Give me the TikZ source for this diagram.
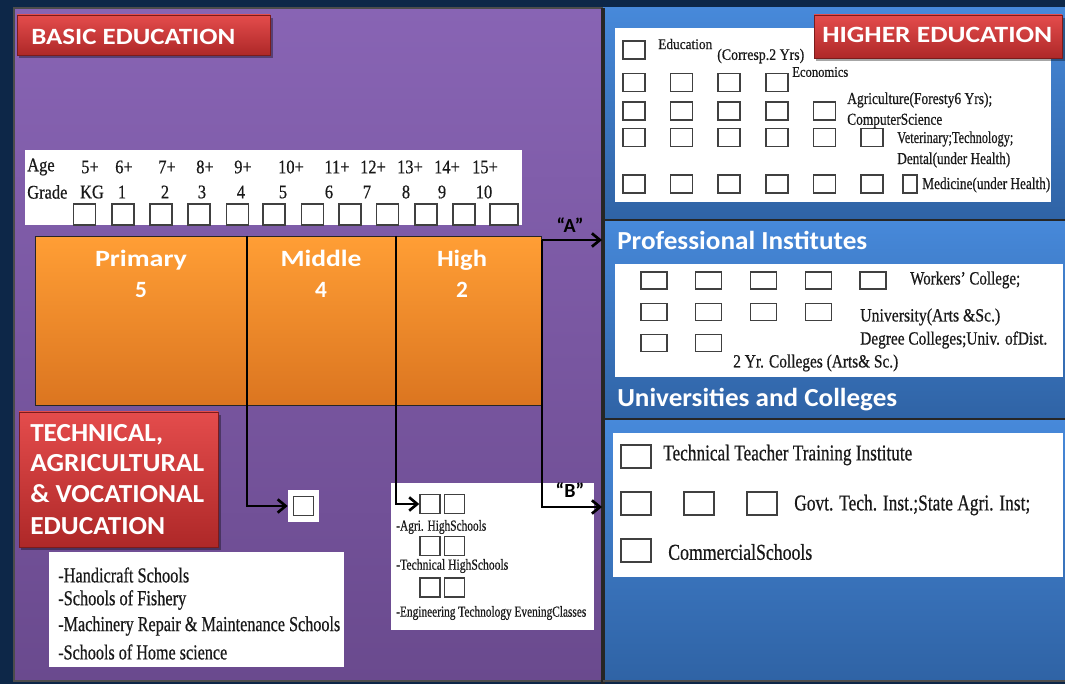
\documentclass[tikz,border=0pt]{standalone}
\usepackage{fontspec}
\setmainfont{Liberation Serif}
\newfontfamily\hdf{Carlito}
\newfontfamily\srf[FakeBold=0.6]{Liberation Serif}
\newfontfamily\agf[FakeStretch=0.85,FakeBold=0.5]{Liberation Serif}
\usetikzlibrary{arrows.meta}
\definecolor{navy}{HTML}{0D2748}
\definecolor{purpT}{HTML}{8864B4}
\definecolor{purpB}{HTML}{6A4A8E}
\definecolor{bluT}{HTML}{4789DA}
\definecolor{bluB}{HTML}{2F63A5}
\definecolor{orT}{HTML}{FF9E35}
\definecolor{orB}{HTML}{DB7520}
\definecolor{redT}{HTML}{E44C4C}
\definecolor{redB}{HTML}{AE2828}
\newcommand\fw[2]{\sbox0{#2}\pgfmathsetmacro\fwr{#1*0.75/\the\wd0}\scalebox{\fwr}[1]{\usebox0}}
\begin{document}
\begin{tikzpicture}[x=0.75pt,y=-0.75pt,
  hdr/.style={anchor=base west,inner sep=0pt,text=white,font={\hdf\bfseries\fontsize{#1}{#1}\selectfont}},
  hdc/.style={anchor=base,inner sep=0pt,text=white,font={\hdf\bfseries\fontsize{#1}{#1}\selectfont}},
  sr/.style={anchor=west,inner sep=0pt,text=black!90,font={\srf\fontsize{#1}{#1}\selectfont}},
  ag/.style={inner sep=0pt,text=black!90,font={\agf\fontsize{14.5}{14.5}\selectfont}},
  sqbase/.style={draw=black!75,line width=1.1pt,fill=white,inner sep=0pt},
  sqA/.style={sqbase,minimum width=16.5pt,minimum height=15.75pt},
  sqH/.style={sqbase,minimum width=16.5pt,minimum height=13.5pt},
  sqP/.style={sqbase,minimum width=19.5pt,minimum height=12.75pt},
  sqU/.style={sqbase,minimum width=22.5pt,minimum height=17.25pt},
  sqG/.style={sqbase,minimum width=15pt,minimum height=14.5pt},
  seg/.style={draw=black!85,line width=1.1pt,top color=orT,bottom color=orB,inner sep=0pt,anchor=north west,minimum height=126.75pt},
  redtab/.style={top color=redT,bottom color=redB,draw=redB!70!black,line width=0.4pt},
  shad/.style={fill=black,opacity=0.35},
  wbox/.style={fill=white},
  conn/.style={draw=black,line width=2pt,-{Straight Barb[length=6pt,width=10pt]}},
  qlab/.style={anchor=base,inner sep=0pt,text=black,font={\hdf\bfseries\fontsize{15}{15}\selectfont}}
]
\useasboundingbox (0,0) rectangle (1065,684);
% background and panels
\fill[navy] (0,0) rectangle (1065,684);
\path[top color=purpT,bottom color=purpB,draw=black!70,line width=1.2pt] (14,8) rectangle (603,681);
\path[top color=bluT,bottom color=bluB] (603,8) rectangle (1065,220);
\path[top color=bluT,bottom color=bluB] (603,220) rectangle (1065,419);
\path[top color=bluT,bottom color=bluB] (603,419) rectangle (1065,681);
\draw[black!85,line width=2.4pt] (603,8) -- (603,684);
\draw[black!85,line width=2pt] (603,220) -- (1065,220);
\draw[black!85,line width=2pt] (603,419) -- (1065,419);
\draw[black!70,line width=1pt] (603,681) -- (1065,681);

% ---------- BASIC EDUCATION ----------
\fill[shad] (19,18) rectangle (273,58);
\path[redtab] (17,15) rectangle (270,55);
\node[hdr=17.5] (tBasic) at (31,45) {\fw{204}{BASIC EDUCATION}};

% age / grade table
\path[wbox] (25,150) rectangle (522,225);
\node[ag,anchor=west] (tAge) at (27,167) {Age};
\node[ag,anchor=west] (tGrade) at (27,192) {Grade};
\foreach \x/\t [count=\i] in {90/5+,124/6+,167/7+,205/8+,243/9+,291/10+,337/11+,373/12+,410/13+,447/14+,485/15+}
  \node[ag] (age\i) at (\x,167) {\t};
\foreach \x/\t [count=\i] in {92/KG,122/1,165/2,202/3,241/4,283/5,329/6,367/7,406/8,442/9,484/10}
  \node[ag] (grd\i) at (\x,192) {\t};
\foreach \x [count=\i] in {84.5,123,161,199,237.5,274,312.5,350,387.5,426,464}
  \node[sqA] (a\i) at (\x,214.5) {};
\node[sqA,minimum width=21pt] (a12) at (504,214.5) {};

% orange bar
\node[seg,minimum width=159pt] (sPrim) at (35,236) {};
\node[seg,minimum width=111.75pt] (sMid) at (247,236) {};
\node[seg,minimum width=108.75pt] (sHigh) at (396,236) {};
\node[hdc=17.5] (tPrim) at (141,267) {\fw{92}{Primary}};
\node[hdc=17.5] (nPrim) at (141,298) {5};
\node[hdc=17.5] (tMid) at (321,267) {\fw{81}{Middle}};
\node[hdc=17.5] (nMid) at (321,298) {4};
\node[hdc=17.5] (tHigh) at (462,267) {\fw{50}{High}};
\node[hdc=17.5] (nHigh) at (462,298) {2};

% ---------- TECHNICAL ----------
\fill[shad] (21,415) rectangle (221,550);
\path[redtab] (19,412) rectangle (218,547);
\node[hdr=19.5] (tT1) at (30,442) {\fw{133}{TECHNICAL,}};
\node[hdr=19.5] (tT2) at (30,472) {\fw{174}{AGRICULTURAL}};
\node[hdr=19.5] (tT3) at (30,503) {\fw{174}{\& VOCATIONAL}};
\node[hdr=19.5] (tT4) at (30,535) {\fw{135}{EDUCATION}};

% handicraft list
\path[wbox] (49,552) rectangle (344,667);
\node[sr=16] (l1) at (58,575) {\fw{131}{-Handicraft Schools}};
\node[sr=16] (l2) at (58,600) {\fw{128}{-Schools of Fishery}};
\node[sr=16] (l3) at (58,626) {\fw{282}{-Machinery Repair \& Maintenance Schools}};
\node[sr=16] (l4) at (58,652) {\fw{169}{-Schools of Home science}};

% vocational small box
\node[fill=white,minimum size=23.25pt,inner sep=0pt] (vocbox) at (303.5,506) {};
\node[sqG] (vocsq) at (vocbox.center) {};

% agri box
\path[wbox] (391,483) rectangle (594,630);
\node[sqG] (ag11) at (430,504) {};
\node[sqG] (ag12) at (454.5,504) {};
\node[sr=11.5] (m1) at (396,527) {\fw{90}{-Agri. HighSchools}};
\node[sqG] (ag21) at (430,546) {};
\node[sqG] (ag22) at (454.5,546) {};
\node[sr=11.5] (m2) at (396,566) {\fw{112}{-Technical HighSchools}};
\node[sqG] (ag31) at (430,587.5) {};
\node[sqG] (ag32) at (454.5,587.5) {};
\node[sr=11.5] (m3) at (396,613) {\fw{190}{-Engineering Technology EveningClasses}};

% connectors
\coordinate (dM) at (247,236);
\coordinate (dH) at (396,236);
\coordinate (dR) at (542,240);
\coordinate (pA) at (602,240);
\coordinate (pB) at (602,507);
\draw[conn] (dM) |- (vocbox.west);
\draw[conn] (dH) |- (ag11.west);
\draw[conn] (dR) -- (pA);
\draw[conn] (dR) |- (pB);
\node[qlab] (labA) at (570,233) {“A”};
\node[qlab] (labB) at (570,498) {“B”};

% ---------- HIGHER EDUCATION ----------
\path[wbox] (615,28) rectangle (1051,202);
\fill[shad] (816,18) rectangle (1065,61);
\path[redtab] (814,15) rectangle (1062,58);
\node[hdr=17.5] (tHigher) at (822,43) {\fw{230}{HIGHER EDUCATION}};
\foreach \y/\n [count=\r] in {50/1,82.5/4,111/5,137.5/6,184/6}
  \foreach \c in {1,...,\n}
    \node[sqH] (h\r\c) at ({634+47.6*(\c-1)},\y) {};
\node[sqH,minimum width=10.5pt] (h57) at (910,184) {};
\node[sr=11] (e1) at (658,44) {\fw{54}{Education}};
\node[sr=12] (e2) at (717,56) {\fw{87}{(Corresp.2 Yrs)}};
\node[sr=11] (e3) at (792,72) {\fw{56}{Economics}};
\node[sr=12.5] (e4) at (847,100) {\fw{145}{Agriculture(Foresty6 Yrs);}};
\node[sr=12.5] (e5) at (847,121) {\fw{95}{ComputerScience}};
\node[sr=12.5] (e6) at (897,139) {\fw{116}{Veterinary;Technology;}};
\node[sr=12.5] (e7) at (897,160) {\fw{113}{Dental(under Health)}};
\node[sr=12.5] (e8) at (922,185) {\fw{128}{Medicine(under Health)}};

% ---------- Professional Institutes ----------
\node[hdr=19.5] (tProf) at (617,250) {\fw{250}{Professional Institutes}};
\path[wbox] (615,264) rectangle (1063,377);
\foreach \y/\n [count=\r] in {280.5/5,312/4,343/2}
  \foreach \c in {1,...,\n}
    \node[sqP] (p\r\c) at ({654+54.75*(\c-1)},\y) {};
\node[sr=14] (f1) at (910,280) {\fw{110}{Workers’ College;}};
\node[sr=14] (f2) at (860,317) {\fw{140}{University(Arts \&Sc.)}};
\node[sr=14] (f3) at (860,340) {\fw{187}{Degree Colleges;Univ. ofDist.}};
\node[sr=14] (f4) at (733,363) {\fw{165}{2 Yr. Colleges (Arts\& Sc.)}};
\node[hdr=19.5] (tUniv) at (617,407) {\fw{280}{Universities and Colleges}};

% ---------- bottom right ----------
\path[wbox] (613,433) rectangle (1063,577);
\node[sqU] (u1) at (636,456.5) {};
\node[sqU] (u21) at (636,503.5) {};
\node[sqU] (u22) at (699,503.5) {};
\node[sqU] (u23) at (762,503.5) {};
\node[sqU] (u3) at (636,550.5) {};
\node[sr=17] (g1) at (663,455) {\fw{249}{Technical Teacher Training Institute}};
\node[sr=17] (g2) at (794,505) {\fw{236}{Govt. Tech. Inst.;State Agri. Inst;}};
\node[sr=17] (g3) at (668,552) {\fw{144}{CommercialSchools}};
\end{tikzpicture}
\end{document}
